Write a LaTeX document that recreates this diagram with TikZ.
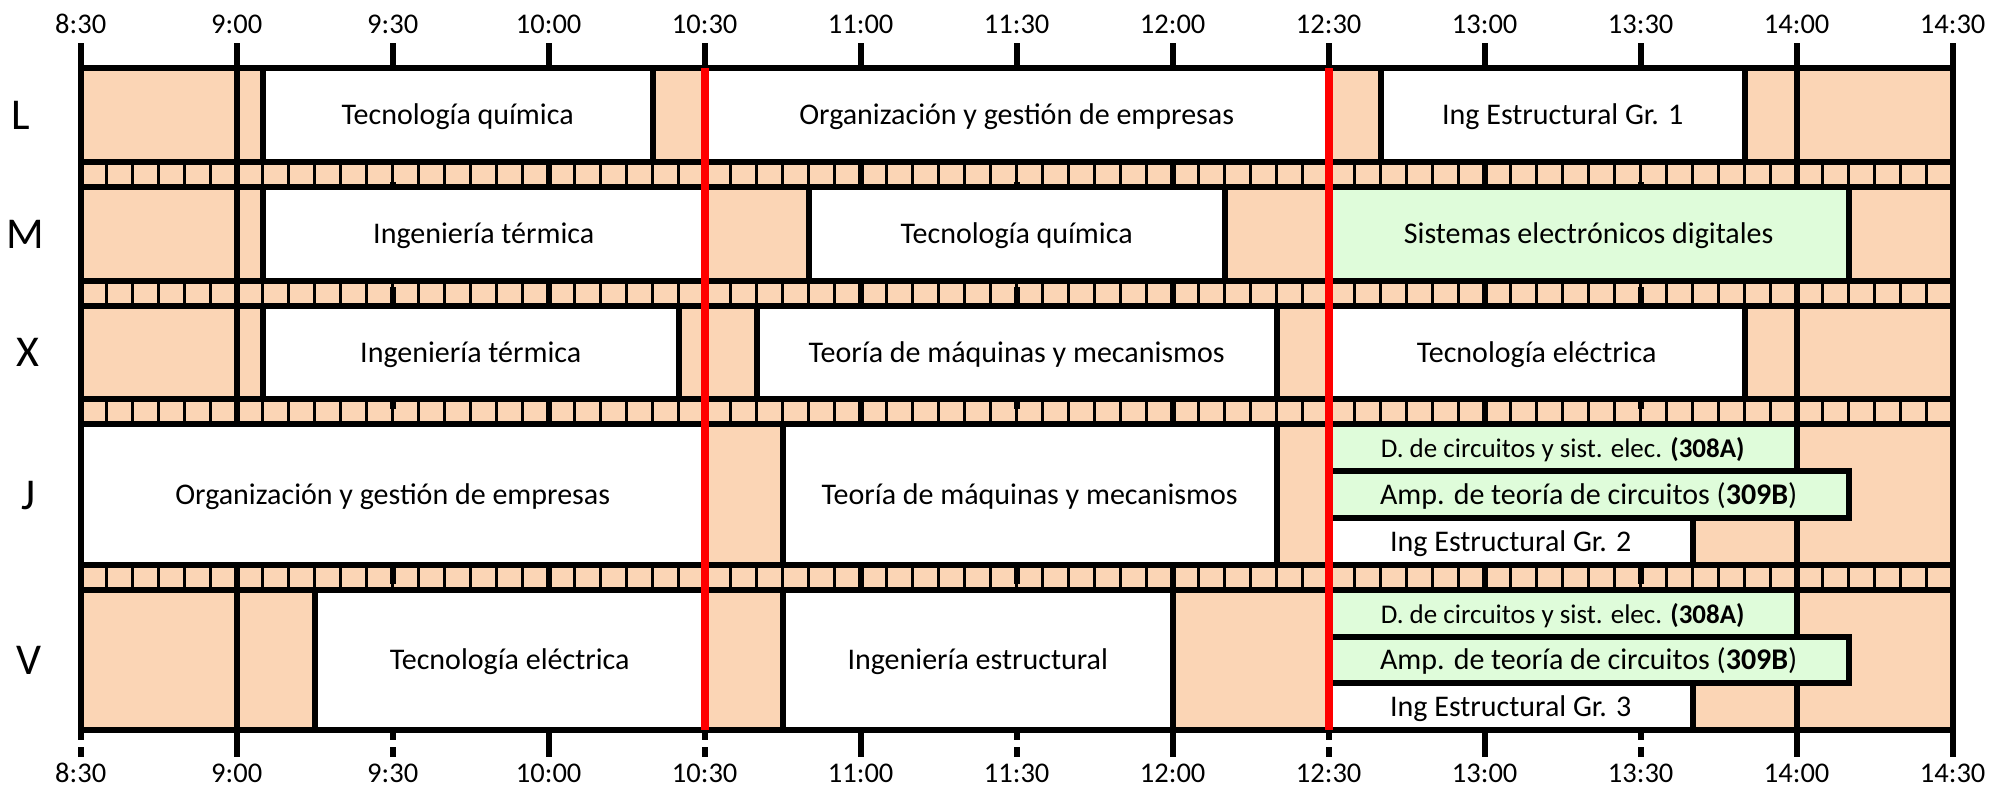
\documentclass[tikz,border=0pt]{standalone}
\usepackage{fontspec}
\setmainfont{Carlito}
\definecolor{naranja}{RGB}{251,213,181}
\definecolor{verde}{RGB}{223,252,218}
\newcommand{\menor}{\fontsize{27}{32}\selectfont}
%% una clase: [relleno]{inicio}{fin}{arriba}{abajo}{nombre}{texto}
\newcommand{\clase}[7][white]{%
    \draw[clase, fill=#1] (#2,#4) rectangle (#3,#5);
    \node[texto] (#6) at ({(#2+#3)/2},{(#4+#5)/2}) {#7};}
\tikzset{
    linea/.style={line width=6pt},
    celda/.style={line width=3.5pt},
    clase/.style={draw, line width=6pt},
    rojo/.style={draw=red, line width=8pt},
    texto/.style={font=\fontsize{30}{36}\selectfont, inner sep=0pt, text height=19pt, text depth=0pt},
    hora/.style={font=\fontsize{28.5}{34}\selectfont, inner sep=0pt, text height=18pt, text depth=0pt},
    dia/.style={font=\fontsize{44}{50}\selectfont, inner sep=0pt, text height=28pt, text depth=0pt}
}
\begin{document}
\begin{tikzpicture}[x=5.2pt, y=-1pt]
    \useasboundingbox (-15.52,0) rectangle (367.37,788);
    %% fondo
    \fill[naranja] (0,68) rectangle (360,730);
    %% franjas de 5 minutos
    \foreach \ya/\yb in {162/187, 281/306, 399/424, 565/590}
        \foreach \m in {5,10,...,355}
            \draw[celda] (\m,\ya) -- (\m,\yb);
    %% horas
    \foreach \m in {30,90,...,330}
        \draw[linea] (\m,43) -- (\m,757);
    \draw[linea] (360,43) -- (360,757);
    %% medias horas
    \foreach \m in {0,60,...,300} {
        \draw[linea] (\m,43) -- (\m,68);
        \draw[linea, dash pattern=on 17pt off 18pt, dash phase=26pt] (\m,68) -- (\m,730);
        \draw[linea, dash pattern=on 10pt off 7pt] (\m,730) -- (\m,757);
    }
    %% L
    \clase{35}{110}{68}{162}{lTec}{Tecnología química}
    \clase{120}{240}{68}{162}{lOrg}{Organización y gestión de empresas}
    \clase{250}{320}{68}{162}{lIng}{Ing Estructural Gr. 1}
    %% M
    \clase{35}{120}{187}{281}{mIng}{Ingeniería térmica}
    \clase{140}{220}{187}{281}{mTec}{Tecnología química}
    \clase[verde]{240}{340}{187}{281}{mSis}{Sistemas electrónicos digitales}
    %% X
    \clase{35}{115}{306}{399}{xIng}{Ingeniería térmica}
    \clase{130}{230}{306}{399}{xTeo}{Teoría de máquinas y mecanismos}
    \clase{240}{320}{306}{399}{xTec}{Tecnología eléctrica}
    %% J
    \clase{0}{120}{424}{565}{jOrg}{Organización y gestión de empresas}
    \clase{135}{230}{424}{565}{jTeo}{Teoría de máquinas y mecanismos}
    \clase[verde]{240}{330}{424}{471}{jDci}{\menor D. de circuitos y sist. elec. \textbf{(308A)}}
    \clase[verde]{240}{340}{471}{518}{jAmp}{Amp. de teoría de circuitos (\textbf{309B})}
    \clase{240}{310}{518}{565}{jIng}{Ing Estructural Gr. 2}
    %% V
    \clase{45}{120}{590}{730}{vTec}{Tecnología eléctrica}
    \clase{135}{210}{590}{730}{vIng}{Ingeniería estructural}
    \clase[verde]{240}{330}{590}{637}{vDci}{\menor D. de circuitos y sist. elec. \textbf{(308A)}}
    \clase[verde]{240}{340}{637}{683}{vAmp}{Amp. de teoría de circuitos (\textbf{309B})}
    \clase{240}{310}{683}{730}{vEst}{Ing Estructural Gr. 3}
    %% filas y marco
    \foreach \y in {162,187,281,306,399,424,565,590}
        \draw[linea] (0,\y) -- (360,\y);
    \draw[linea] (0,68) rectangle (360,730);
    %% 10:30 y 12:30
    \draw[rojo] (120,68) -- (120,730);
    \draw[rojo] (240,68) -- (240,730);
    %% dias
    \foreach \d/\x/\y in {L/-11.5/115, M/-10.7/234, X/-10.1/352.5, J/-10.1/495, V/-9.9/660}
        \node[dia] (dia\d) at (\x,\y) {\d};
    %% horas
    \foreach \t [count=\i from 0] in {8:30,9:00,9:30,10:00,10:30,11:00,11:30,12:00,12:30,13:00,13:30,14:00,14:30} {
        \node[hora] (arriba\i) at (\i*30,24) {\t};
        \node[hora] (abajo\i) at (\i*30,773) {\t};
    }
\end{tikzpicture}
\end{document}
